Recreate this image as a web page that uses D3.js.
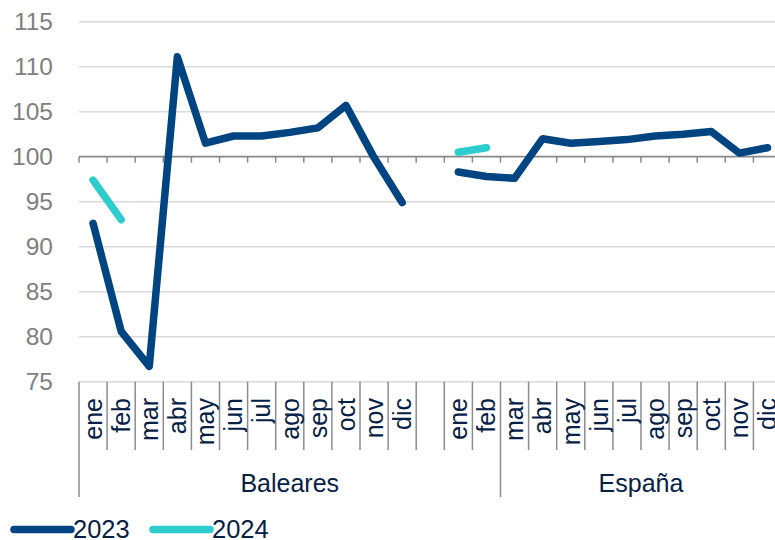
<!DOCTYPE html>
<html lang="es">
<head>
    <meta charset="UTF-8">
    <title>Baleares / España</title>
    <script src="https://d3js.org/d3.v7.min.js"></script>
    <style>
        body { margin: 0; background: #fff; }
        svg text { font-family: "Liberation Sans", Arial, sans-serif; }
    </style>
</head>
<body>
<div id="chart"></div>
<script>
    // datos
    var months = ["ene", "feb", "mar", "abr", "may", "jun", "jul", "ago", "sep", "oct", "nov", "dic"];
    var baleares2023 = [92.6, 80.6, 76.7, 111.1, 101.5, 102.3, 102.3, 102.7, 103.2, 105.7, 99.9, 94.9];
    var baleares2024 = [97.4, 93.0];
    var espana2023 = [98.3, 97.8, 97.6, 102.0, 101.5, 101.7, 101.9, 102.3, 102.5, 102.8, 100.4, 101.0];
    var espana2024 = [100.5, 101.0];
    var yTicks = [75, 80, 85, 90, 95, 100, 105, 110, 115];
    var seriesNames = ["2023", "2024"];
    var colors = {"2023": "#004481", "2024": "#2dcccd"};

    // categorias: 12 meses Baleares, un hueco, 12 meses España
    var categories = months.map(function (m) { return "Baleares|" + m; })
        .concat(["hueco"])
        .concat(months.map(function (m) { return "España|" + m; }));
    // grupos del eje (como en la hoja original)
    var groupSpans = [
        {name: "Baleares", from: "Baleares|ene", to: "España|feb"},
        {name: "España", from: "España|mar", to: "España|dic"}
    ];

    var width = 775, height = 540;
    var svg = d3.select("#chart").append("svg")
        .attr("width", width)
        .attr("height", height);

    var x = d3.scaleBand().domain(categories).range([79, 781.5]).padding(0);
    var y = d3.scaleLinear().domain([75, 115]).range([381.7, 21.7]);

    // grid
    svg.append("g").selectAll("line")
        .data(yTicks.filter(function (t) { return t !== 100; }))
        .enter().append("line")
        .attr("x1", 79).attr("x2", width)
        .attr("y1", function (d) { return y(d); })
        .attr("y2", function (d) { return y(d); })
        .attr("stroke", "#d9d9d9")
        .attr("stroke-width", 1.5);

    // y labels
    svg.append("g").selectAll("text")
        .data(yTicks)
        .enter().append("text")
        .attr("x", 53)
        .attr("y", function (d) { return y(d); })
        .attr("dy", "0.35em")
        .attr("text-anchor", "end")
        .attr("fill", "#7f7f7f")
        .style("font-size", "24.5px")
        .text(function (d) { return d; });

    // eje horizontal en 100 con marcas
    var axis100 = svg.append("g").attr("transform", "translate(0," + y(100) + ")")
        .call(d3.axisBottom(x).tickValues([]).tickSizeOuter(0));
    axis100.select(".domain").remove();
    axis100.append("line")
        .attr("x1", 79).attr("x2", width)
        .attr("stroke", "#898989").attr("stroke-width", 1.8);
    var bounds = categories.map(function (c) { return x(c); }).concat([x.range()[1]]);
    axis100.selectAll("line.tick100")
        .data(bounds)
        .enter().append("line")
        .attr("class", "tick100")
        .attr("x1", function (d) { return d; })
        .attr("x2", function (d) { return d; })
        .attr("y1", 0).attr("y2", 6)
        .attr("stroke", "#898989").attr("stroke-width", 1.5);

    // separadores de categorias
    var groupEdges = [x(groupSpans[0].from), x(groupSpans[1].from), x.range()[1]];
    svg.append("g").selectAll("line")
        .data(bounds)
        .enter().append("line")
        .attr("x1", function (d) { return d; })
        .attr("x2", function (d) { return d; })
        .attr("y1", y(75))
        .attr("y2", function (d) {
            return groupEdges.some(function (g) { return Math.abs(g - d) < 0.5; }) ? 497 : 450;
        })
        .attr("stroke", "#8c8c8c").attr("stroke-width", 1.5);

    // etiquetas de meses
    svg.append("g").selectAll("text")
        .data(categories.filter(function (c) { return c !== "hueco"; }))
        .enter().append("text")
        .attr("transform", function (d) {
            return "translate(" + (x(d) + x.bandwidth() / 2) + ",398) rotate(-90)";
        })
        .attr("dy", "0.35em")
        .attr("text-anchor", "end")
        .attr("fill", "#072146")
        .style("font-size", "25px")
        .text(function (d) { return d.split("|")[1]; });

    // etiquetas de grupo
    svg.append("g").selectAll("text")
        .data(groupSpans)
        .enter().append("text")
        .attr("x", function (d) { return (x(d.from) + x(d.to) + x.bandwidth()) / 2; })
        .attr("y", 491.5)
        .attr("text-anchor", "middle")
        .attr("fill", "#072146")
        .style("font-size", "25px")
        .text(function (d) { return d.name; });

    // lineas
    var line = d3.line()
        .x(function (d) { return x(d.cat) + x.bandwidth() / 2; })
        .y(function (d) { return y(d.value); });

    function toPoints(region, values) {
        return values.map(function (v, i) { return {cat: region + "|" + months[i], value: v}; });
    }

    var lines = [
        {name: "2023", points: toPoints("Baleares", baleares2023)},
        {name: "2023", points: toPoints("España", espana2023)},
        {name: "2024", points: toPoints("Baleares", baleares2024)},
        {name: "2024", points: toPoints("España", espana2024)}
    ];

    svg.append("g").selectAll("path")
        .data(lines)
        .enter().append("path")
        .attr("d", function (d) { return line(d.points); })
        .attr("fill", "none")
        .attr("stroke", function (d) { return colors[d.name]; })
        .attr("stroke-width", 7.5)
        .attr("stroke-linejoin", "round")
        .attr("stroke-linecap", "round");

    // leyenda
    var legend = svg.append("g").selectAll("g")
        .data(seriesNames)
        .enter().append("g")
        .attr("transform", function (d, i) { return "translate(" + (14 + i * 139) + ",529.5)"; });
    legend.append("line")
        .attr("x1", 0).attr("x2", 57)
        .attr("stroke", function (d) { return colors[d]; })
        .attr("stroke-width", 7.5)
        .attr("stroke-linecap", "round");
    legend.append("text")
        .attr("x", 59)
        .attr("y", 8.8)
        .attr("fill", "#072146")
        .style("font-size", "25.5px")
        .text(function (d) { return d; });
</script>
</body>
</html>
